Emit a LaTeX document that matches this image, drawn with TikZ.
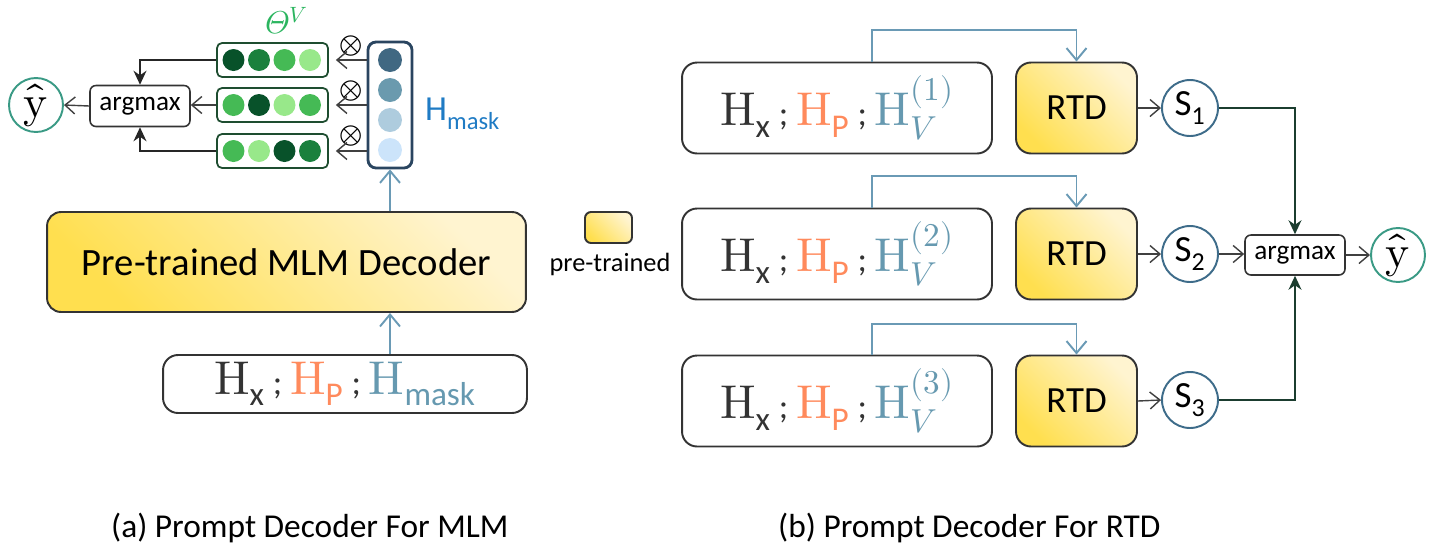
\documentclass[tikz,border=0pt]{standalone}
\usepackage{amsmath}
\usepackage{unicode-math}
\setmainfont{Carlito}
\setmathfont{Latin Modern Math}
\usepackage{tikz}
\usetikzlibrary{arrows.meta, positioning, calc}

\definecolor{hxc}{HTML}{333333}
\definecolor{hpc}{HTML}{FF8A5C}
\definecolor{hvc}{HTML}{6699B0}
\definecolor{flowc}{HTML}{6A9AB5}
\definecolor{maskc}{HTML}{1F7BC4}
\definecolor{thetac}{HTML}{2BB55F}
\definecolor{sumc}{HTML}{1B3D2F}
\definecolor{yhatc}{HTML}{3A9A85}
\definecolor{scirc}{HTML}{3E6C8A}
\definecolor{vecc}{HTML}{1E4D30}
\definecolor{maskbox}{HTML}{2A4560}
\definecolor{ylow}{HTML}{FFDF4F}
\definecolor{yhigh}{HTML}{FFF4D0}
\definecolor{ga}{HTML}{08522A}
\definecolor{gb}{HTML}{1A803D}
\definecolor{gc}{HTML}{45BA55}
\definecolor{gd}{HTML}{98E88A}
\definecolor{ma}{HTML}{406882}
\definecolor{mb}{HTML}{6A9AAE}
\definecolor{mc}{HTML}{AECCDE}
\definecolor{md}{HTML}{CCE4FA}

\newcommand{\fs}[1]{\fontsize{#1}{#1}\selectfont}
\newcommand{\semi}{\,\text{\fs{20};}\,}
\newcommand{\hxp}{\symup{H}_{\text{x}}\semi{\color{hpc}\symup{H}_{\text{P}}}\semi}

\begin{document}
\begin{tikzpicture}[x=0.02cm, y=-0.02cm,
    box/.style={draw=black!80, line width=1.1pt, rounded corners=0.3cm,
                fill=white},
    pretrain/.style={draw=black!80, line width=1.1pt, rounded corners=0.28cm,
                     left color=ylow, right color=yhigh, shading angle=135},
    vec/.style={draw=vecc, line width=1pt, rounded corners=0.1cm,
                minimum width=2.22cm, minimum height=0.68cm},
    dot/.style={circle, minimum size=0.44cm, inner sep=0pt},
    mdot/.style={circle, minimum size=0.48cm, inner sep=0pt},
    amax/.style={draw=black!80, line width=0.9pt, rounded corners=0.12cm,
                 minimum width=2cm, minimum height=0.82cm, font=\fs{15.5}},
    yhat/.style={circle, draw=yhatc, line width=1.1pt, minimum size=1.08cm,
                 inner sep=0pt, font=\fs{26}},
    score/.style={circle, draw=scirc, line width=1.1pt, minimum size=1.12cm,
                  inner sep=0pt, font=\fs{21}},
    arr/.style={draw=black!75, line width=0.8pt,
                -{Straight Barb[length=2mm, width=3.4mm]}},
    flow/.style={draw=flowc, line width=1.1pt,
                 -{Straight Barb[length=2.4mm, width=4mm]}},
    merge/.style={line width=0.9pt, -{Stealth[length=2.8mm, width=2.6mm]}}
  ]
  \useasboundingbox (0,0) rectangle (1438,549);

  % (a) MLM side
  \node[yhat] (yL) at (36,105) {$\hat{\symup{y}}$};
  \node[amax] (argL) at (140,106) {argmax};

  \node[vec] (vec1) at (272.5,60) {};
  \node[vec] (vec2) at (272.5,105) {};
  \node[vec] (vec3) at (272.5,151) {};

  \node[dot, fill=ga] (v11) at (233.5,60) {};
  \node[dot, fill=gb] (v12) at (259,60) {};
  \node[dot, fill=gc] (v13) at (284.5,60) {};
  \node[dot, fill=gd] (v14) at (310,60) {};

  \node[dot, fill=gc] (v21) at (233.5,105) {};
  \node[dot, fill=ga] (v22) at (259,105) {};
  \node[dot, fill=gd] (v23) at (284.5,105) {};
  \node[dot, fill=gc] (v24) at (310,105) {};

  \node[dot, fill=gc] (v31) at (233.5,151) {};
  \node[dot, fill=gd] (v32) at (259,151) {};
  \node[dot, fill=ga] (v33) at (284.5,151) {};
  \node[dot, fill=gb] (v34) at (310,151) {};

  \node[text=thetac, font=\fs{18}] (theta) at (287,21) {$\symit{\Theta}^{V}$};

  \node[draw=maskbox, line width=1.6pt, rounded corners=0.16cm,
        minimum width=0.88cm, minimum height=2.52cm] (hm) at (390,105) {};
  \node[mdot, fill=ma] (m1) at (390,60) {};
  \node[mdot, fill=mb] (m2) at (390,90) {};
  \node[mdot, fill=mc] (m3) at (390,120) {};
  \node[mdot, fill=md] (m4) at (390,150) {};
  \node[text=maskc, font=\fs{20}, anchor=west] (hml) at (419,114)
       {$\text{H}_{\text{mask}}$};

  \node[font=\fs{17}] (ox1) at (351,46) {$\otimes$};
  \node[font=\fs{17}] (ox2) at (351,91) {$\otimes$};
  \node[font=\fs{17}] (ox3) at (351,136) {$\otimes$};

  \node[pretrain, minimum width=9.58cm, minimum height=2cm, font=\fs{22}]
       (dec) at (286.5,262) {Pre-trained MLM Decoder};
  \node[box, minimum width=7.28cm, minimum height=1.16cm, font=\fs{27}]
       (inL) at (345,384)
       {$\color{hxc}\hxp{\color{hvc}\symup{H}_{\text{mask}}}$};

  \draw[flow] (inL.north -| hm.south) -- (dec.south -| hm.south);
  \draw[flow] (dec.north -| hm.south) -- (hm.south);

  \draw[arr, shorten >=4pt] (hm.west |- vec1.east) -- (vec1.east);
  \draw[arr, shorten >=4pt] (hm.west |- vec2.east) -- (vec2.east);
  \draw[arr, shorten >=4pt] (hm.west |- vec3.east) -- (vec3.east);

  \draw[merge, draw=black!85] (vec1.west) -| (argL.north);
  \draw[merge, draw=black!85] (vec3.west) -| (argL.south);
  \draw[arr] (vec2.west) -- (vec2.west -| argL.east);
  \draw[arr] (argL.west) -- (yL.east);

  % legend
  \node[pretrain, rounded corners=0.12cm, minimum width=0.94cm,
        minimum height=0.62cm] (leg) at (608.5,227.5) {};
  \node[font=\fs{15}] (legl) at (610,264) {pre-trained};

  % (b) RTD side
  \node[box, minimum width=6.2cm, minimum height=1.82cm, font=\fs{27}]
       (in1) at (837,108) {$\color{hxc}\hxp{\color{hvc}\symup{H}_{V}^{(1)}}$};
  \node[box, minimum width=6.2cm, minimum height=1.82cm, font=\fs{27}]
       (in2) at (837,254) {$\color{hxc}\hxp{\color{hvc}\symup{H}_{V}^{(2)}}$};
  \node[box, minimum width=6.2cm, minimum height=1.82cm, font=\fs{27}]
       (in3) at (837,401) {$\color{hxc}\hxp{\color{hvc}\symup{H}_{V}^{(3)}}$};

  \node[pretrain, rounded corners=0.3cm, minimum width=2.42cm,
        minimum height=1.82cm, font=\fs{21}] (rtd1) at (1076.5,108) {RTD};
  \node[pretrain, rounded corners=0.3cm, minimum width=2.42cm,
        minimum height=1.82cm, font=\fs{21}] (rtd2) at (1076.5,254) {RTD};
  \node[pretrain, rounded corners=0.3cm, minimum width=2.42cm,
        minimum height=1.82cm, font=\fs{21}] (rtd3) at (1076.5,401) {RTD};

  \node[score] (s1) at (1190,108) {$\text{S}_{\text{1}}$};
  \node[score] (s2) at (1190,254) {$\text{S}_{\text{2}}$};
  \node[score] (s3) at (1190,400) {$\text{S}_{\text{3}}$};

  \node[amax, minimum height=0.8cm] (argR) at (1295,255) {argmax};
  \node[yhat] (yR) at (1398,255) {$\hat{\symup{y}}$};

  \draw[flow] ([xshift=0.7cm]in1.north) -- ++(0,-32) -| (rtd1.north);
  \draw[flow] ([xshift=0.7cm]in2.north) -- ++(0,-32) -| (rtd2.north);
  \draw[flow] ([xshift=0.7cm]in3.north) -- ++(0,-31) -| (rtd3.north);

  \draw[arr] (rtd1.east) -- (s1.west);
  \draw[arr] (rtd2.east) -- (s2.west);
  \draw[arr] (rtd3.east) -- (s3.west);

  \draw[merge, draw=sumc] (s1.east) -| (argR.north);
  \draw[merge, draw=sumc] (s3.east) -| (argR.south);
  \draw[arr] (s2.east) -- (s2.east -| argR.west);
  \draw[arr] (argR.east) -- (yR.west);

  % captions
  \node[font=\fs{19}, anchor=base west] (capa) at (105,537)
       {(a) Prompt Decoder For MLM};
  \node[font=\fs{19}, anchor=base west] (capb) at (772,537)
       {(b) Prompt Decoder For RTD};
\end{tikzpicture}
\end{document}
